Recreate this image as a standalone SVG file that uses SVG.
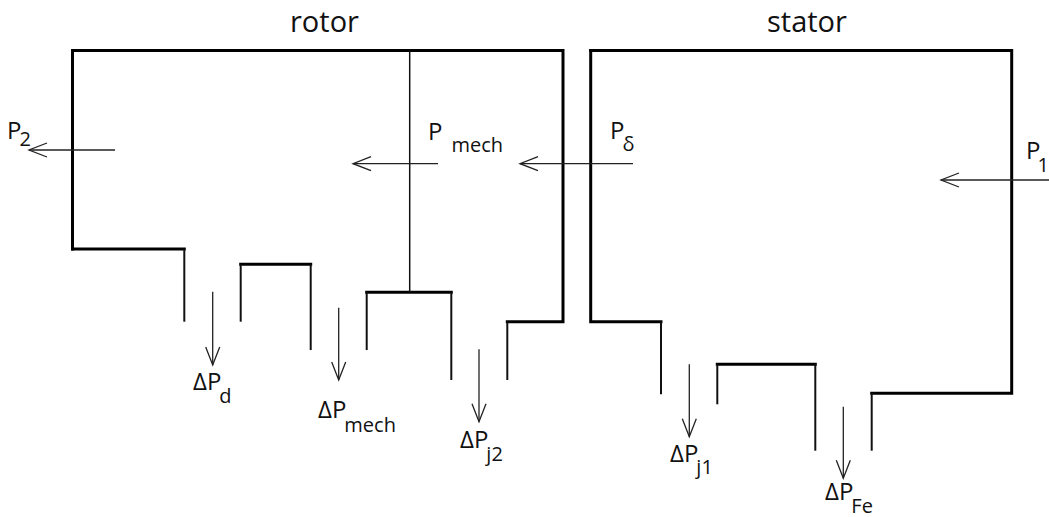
<svg xmlns="http://www.w3.org/2000/svg" width="1049" height="517" viewBox="0 0 1049 517">
<style>
.thick{fill:none;stroke:#000;stroke-width:3;stroke-linejoin:miter;stroke-linecap:square}
.thin{fill:none;stroke:#111;stroke-width:2}
.hair{fill:none;stroke:#111;stroke-width:1.5}
.arr{fill:none;stroke:#222;stroke-width:1.3;marker-end:url(#ah)}
text{font-family:"Open Sans","Liberation Sans",sans-serif;fill:#111}
.title{font-size:29px}
.m{font-size:24px}
.s{font-size:20px}
</style>
<defs>
<marker id="ah" markerUnits="userSpaceOnUse" markerWidth="24" markerHeight="20" viewBox="-21 -10 24 20" refX="0" refY="0" orient="auto" overflow="visible">
<path d="M-18,-7 L0,0 L-18,7" fill="none" stroke="#222" stroke-width="1.3"/>
</marker>
</defs>
<g id="rotor">
<text class="title" x="290" y="31.5">rotor</text>
<polyline class="thick" points="72.5,249 72.5,50.5 563,50.5 563,321.7 507.3,321.7"/>
<polyline class="thick" points="184.3,249 72.5,249"/>
<line class="thin" x1="184.3" y1="249" x2="184.3" y2="321.7"/>
<line class="thin" x1="507.3" y1="321.7" x2="507.3" y2="380"/>
<polyline class="thick" points="240.7,264.3 310.7,264.3"/>
<line class="thin" x1="240.7" y1="264.3" x2="240.7" y2="321.7"/>
<line class="thin" x1="310.7" y1="264.3" x2="310.7" y2="350"/>
<polyline class="thick" points="366.7,292.3 451.3,292.3"/>
<line class="thin" x1="366.7" y1="292.3" x2="366.7" y2="350"/>
<line class="thin" x1="451.3" y1="292.3" x2="451.3" y2="380"/>
<line class="hair" x1="409.7" y1="50.5" x2="409.7" y2="292.3"/>
</g>
<g id="stator">
<text class="title" x="767" y="31.5">stator</text>
<polyline class="thick" points="590.7,50.5 1011.7,50.5 1011.7,393.3 871.7,393.3"/>
<polyline class="thick" points="590.7,50.5 590.7,321.7 661,321.7"/>
<line class="thin" x1="661" y1="321.7" x2="661" y2="394.3"/>
<line class="thin" x1="871.7" y1="393.3" x2="871.7" y2="450.7"/>
<polyline class="thick" points="717.3,364.3 815.3,364.3"/>
<line class="thin" x1="717.3" y1="364.3" x2="717.3" y2="404.3"/>
<line class="thin" x1="815.3" y1="364.3" x2="815.3" y2="450.7"/>
</g>
<g id="connectors">
<line class="arr" x1="115" y1="150" x2="29" y2="150"/>
<line class="arr" x1="438" y1="163.7" x2="353" y2="163.7"/>
<line class="arr" x1="633" y1="163.7" x2="520" y2="163.7"/>
<line class="arr" x1="1049" y1="180" x2="941" y2="180"/>
<line class="arr" x1="212.7" y1="291.7" x2="212.7" y2="365"/>
<line class="arr" x1="338.7" y1="307.7" x2="338.7" y2="380"/>
<line class="arr" x1="479" y1="349.3" x2="479" y2="421.7"/>
<line class="arr" x1="689.3" y1="364.3" x2="689.3" y2="436.7"/>
<line class="arr" x1="843.3" y1="406.7" x2="843.3" y2="478.3"/>
</g>
<g id="labels">
<g id="P2"><text class="m" x="7" y="138.5">P<tspan class="s" dx="-2" dy="7.5">2</tspan></text></g>
<g id="Pmech"><text class="m" x="428" y="139.5">P<tspan class="s" dx="9" dy="12.5">mech</tspan></text></g>
<g id="Pdelta"><text class="m" x="610" y="138.5">P<tspan class="s" dx="-2" dy="12">δ</tspan></text></g>
<g id="P1"><text class="m" x="1026" y="158.5">P<tspan class="s" dx="-3" dy="13.5">1</tspan></text></g>
<g id="dPd"><text class="m" x="193" y="390">ΔP<tspan class="s" dx="-2" dy="12.5">d</tspan></text></g>
<g id="dPmech"><text class="m" x="318" y="418">ΔP<tspan class="s" dx="-2" dy="14">mech</tspan></text></g>
<g id="dPj2"><text class="m" x="460" y="448">ΔP<tspan class="s" dx="-2" dy="12.5">j2</tspan></text></g>
<g id="dPj1"><text class="m" x="670" y="461.5">ΔP<tspan class="s" dx="-2" dy="12">j1</tspan></text></g>
<g id="dPFe"><text class="m" x="825" y="500">ΔP<tspan class="s" dx="-2" dy="12.5">Fe</tspan></text></g>
</g>
</svg>
